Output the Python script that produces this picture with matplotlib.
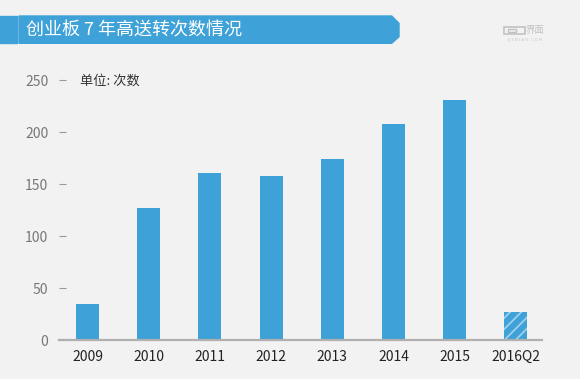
import matplotlib
matplotlib.use("Agg")
import matplotlib.pyplot as plt
from matplotlib.patches import Polygon, Rectangle

plt.rcParams['font.family'] = ['Noto Sans CJK SC', 'DejaVu Sans']
plt.rcParams['hatch.linewidth'] = 1.3

categories = ['2009', '2010', '2011', '2012', '2013', '2014', '2015', '2016Q2']
values = [35, 127, 161, 158, 174, 208, 231, 27]
yticks = [0, 50, 100, 150, 200, 250]
title = '创业板 7 年高送转次数情况'
unit = '单位: 次数'

bg = '#f2f2f2'
blue = '#3ea1d7'

fig = plt.figure(figsize=(5.8, 3.79), dpi=100, facecolor=bg)
W, H = 580, 379

def fx(px):
    return px / W

def fy(py):
    return 1 - py / H

ax = fig.add_axes([fx(59.3), fy(340), fx(541.7) - fx(59.3), fy(80) - fy(340)])
ax.set_facecolor(bg)
x = list(range(len(categories)))
ax.bar(x[:-1], values[:-1], width=0.376, color=blue, zorder=2)
ax.bar(x[-1:], values[-1:], width=0.376, color=blue, zorder=2,
       hatch='///', edgecolor='#9fd0ec', linewidth=0)
ax.set_xlim(-0.46, 7.42)
ax.set_ylim(0, 250)
ax.set_xticks(x)
ax.set_xticklabels(categories, fontsize=10, color='#222222')
ax.set_yticks(yticks)
ax.set_yticklabels([str(t) for t in yticks], fontsize=10, color='#777777')
for s in ['top', 'right', 'left']:
    ax.spines[s].set_visible(False)
ax.spines['bottom'].set_color('#b0b0b0')
ax.spines['bottom'].set_linewidth(1.6)
ax.tick_params(axis='x', length=0, pad=7)
ax.tick_params(axis='y', direction='in', length=5, width=0.8, color='#999999', pad=8)

# unit label
fig.text(fx(80), fy(81.5), unit, fontsize=9.5, color='#333333', va='center', ha='left')

# title banner
fig.patches.append(Rectangle((0, fy(43.3)), fx(16.7), fy(16) - fy(43.3),
                             transform=fig.transFigure, color=blue, zorder=1))
poly = [(fx(19), fy(16)), (fx(391.7), fy(16)), (fx(399), fy(23.3)),
        (fx(399), fy(36.7)), (fx(391.7), fy(43.3)), (fx(19), fy(43.3))]
fig.patches.append(Polygon(poly, closed=True, transform=fig.transFigure,
                           color=blue, zorder=1))
fig.text(fx(26.5), fy(30), title, fontsize=13, color='white', va='center', ha='left')

# logo
logo_c = '#c2c2c2'
fig.patches.append(Rectangle((fx(503.5), fy(33.5)), fx(21), fy(26.5) - fy(33.5),
                             transform=fig.transFigure, fill=False,
                             edgecolor=logo_c, linewidth=1.2))
fig.patches.append(Rectangle((fx(508), fy(31.5)), fx(8), fy(28.5) - fy(31.5),
                             transform=fig.transFigure, fill=False,
                             edgecolor=logo_c, linewidth=1.0))
fig.text(fx(526), fy(30), '界面', fontsize=6.8, color=logo_c, va='center', ha='left')
fig.text(fx(525), fy(39.5), 'J I E M I A N . C O M', fontsize=2.6, color=logo_c,
         va='center', ha='center', family=['DejaVu Sans'])

fig.savefig('out.png', dpi=100, facecolor=bg)
